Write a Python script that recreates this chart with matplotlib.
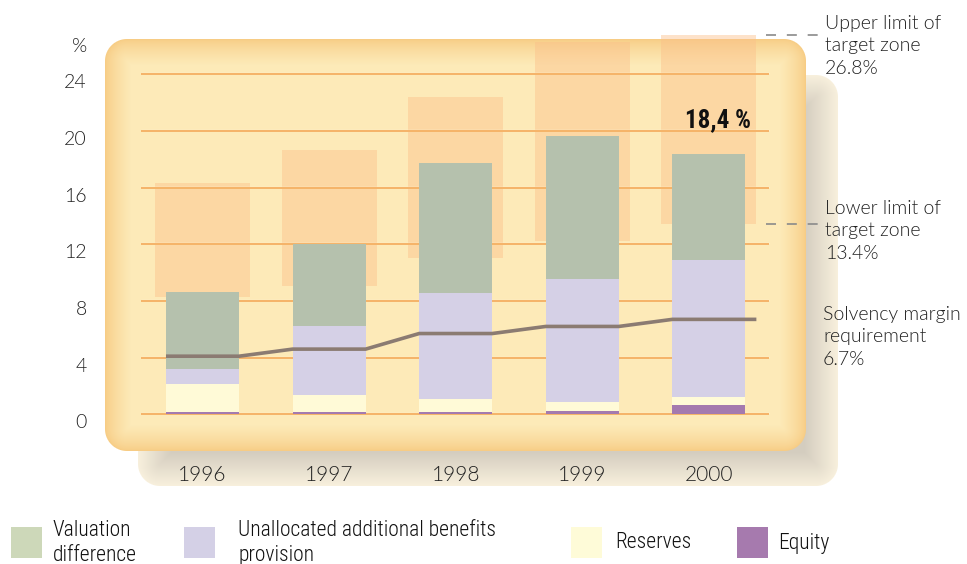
import numpy as np
import matplotlib
matplotlib.use('Agg')
import matplotlib.pyplot as plt
from matplotlib.patches import Rectangle
from matplotlib.font_manager import FontProperties
from matplotlib.transforms import ScaledTranslation

# solvency capital by component, % of technical provisions
years = ['1996', '1997', '1998', '1999', '2000']
equity = [0.17, 0.17, 0.17, 0.25, 0.66]
reserves = [1.97, 1.19, 0.91, 0.64, 0.58]
unallocated = [1.06, 4.90, 7.48, 8.68, 9.63]
valuation = [5.43, 5.74, 9.18, 10.07, 7.53]

# target zone and solvency margin requirement
zone_lower = [8.3, 9.05, 11.0, 12.25, 13.4]
zone_upper = [16.3, 18.65, 22.4, 26.3, 26.8]
solvency_req = [4.1, 4.6, 5.7, 6.2, 6.7]

series_names = ['Valuation\ndifference', 'Unallocated additional benefits\nprovision',
                'Reserves', 'Equity']
bar_colors = ['#b5c1ad', '#d5d0e6', '#fffad7', '#a47aaf']
legend_colors = ['#cdd8b9', '#d4d0e6', '#fefbd8', '#a67aae']

TXT = '#222222'


def light(size):
    return FontProperties(family='Lato', weight=300, size=size)


def narrow(size, weight=300):
    return FontProperties(family='Roboto Condensed', weight=weight, size=size)


W, H = 967, 564
fig = plt.figure(figsize=(W / 100, H / 100), dpi=100)


def rrect_sdf(X, Y, x0, y0, x1, y1, r):
    # signed distance to a rounded rectangle, negative inside
    cx, cy = (x0 + x1) / 2, (y0 + y1) / 2
    qx = np.abs(X - cx) - ((x1 - x0) / 2 - r)
    qy = np.abs(Y - cy) - ((y1 - y0) / 2 - r)
    out = np.hypot(np.maximum(qx, 0), np.maximum(qy, 0))
    return out + np.minimum(np.maximum(qx, qy), 0) - r


def blend(base, col, alpha):
    return base * (1 - alpha[..., None]) + col * alpha[..., None]


# background: soft drop shadow + glowing panel
Y, X = np.mgrid[0:H, 0:W] + 0.5
img = np.ones((H, W, 3))

d_sh = -rrect_sdf(X, Y, 138, 75, 838, 486, 22)
t = np.clip(d_sh / 34, 0, 1)[..., None]
cream = np.array([248, 240, 221]) / 255
grey = np.array([212, 205, 191]) / 255
img = blend(img, cream * (1 - t) + grey * t, np.clip(d_sh + 0.5, 0, 1))

d_pn = -rrect_sdf(X, Y, 105, 39, 806, 451, 22)
t = (np.clip(d_pn / 26, 0, 1) ** 0.7)[..., None]
edge = np.array([247, 203, 130]) / 255
inner = np.array([253, 234, 184]) / 255
img = blend(img, edge * (1 - t) + inner * t, np.clip(d_pn + 0.5, 0, 1))

bg = fig.add_axes([0, 0, 1, 1])
bg.imshow(img, extent=(0, W, H, 0), interpolation='bilinear')
bg.set_xlim(0, W)
bg.set_ylim(H, 0)
bg.axis('off')

# main chart axes, laid out over the panel
y_zero, px_unit = 414.3, 14.17
x_first, px_step = 202.5, 126.6
ax = fig.add_axes([105 / W, (H - 451) / H, (806 - 105) / W, (451 - 20) / H])
ax.set_facecolor('none')
ax.set_xlim((105 - x_first) / px_step, (806 - x_first) / px_step)
ax.set_ylim((y_zero - 451) / px_unit, (y_zero - 20) / px_unit)
for s in ax.spines.values():
    s.set_visible(False)

x = np.arange(len(years))
bar_w, zone_w = 0.577, 0.75

# target zones
lo = np.array(zone_lower)
hi = np.array(zone_upper)
ax.bar(x, hi - lo, zone_w, bottom=lo, color='#fbc08a', alpha=0.45,
       linewidth=0, zorder=1, clip_on=False)

# grid
yt = np.arange(0, 25, 4)
ax.hlines(yt + 0.07, -0.486, 4.475, color='#fff4d6', lw=1.0, zorder=2)
ax.hlines(yt, -0.486, 4.475, color='#f5b368', lw=1.4, zorder=2)

# stacked capital components
bottom = np.zeros(len(years))
for vals, c in zip([equity, reserves, unallocated, valuation], bar_colors[::-1]):
    ax.bar(x, vals, bar_w, bottom=bottom, color=c, linewidth=0, zorder=3)
    bottom += np.array(vals)

# solvency margin requirement, flat across each bar
lx, ly = [], []
for i, v in enumerate(solvency_req):
    lx += [i - bar_w / 2, i + bar_w / 2]
    ly += [v, v]
lx[-1] = x[-1] + zone_w / 2
ax.plot(lx, ly, color='#8b7b72', lw=2.6, zorder=4, solid_capstyle='butt')

total = bottom[-1]
ax.annotate(f'{total:.1f} %'.replace('.', ','), (x[-1] + 0.07, total),
            xytext=(0, 24), textcoords='offset points', ha='center', va='center',
            fontproperties=narrow(18, 700), color='#111111', zorder=5)

# ticks
ax.set_yticks(yt)
ax.set_yticklabels([str(v) for v in yt], fontproperties=light(14), color=TXT)
ax.tick_params(axis='y', length=0, pad=13)
shift = ScaledTranslation(0, -5 / 72, fig.dpi_scale_trans)
for lab in ax.get_yticklabels():
    lab.set_transform(lab.get_transform() + shift)
ax.set_xticks(x)
ax.set_xticklabels(years, fontproperties=light(15), color=TXT)
ax.tick_params(axis='x', length=0, pad=10)
bg.text(87, 46, '%', ha='right', va='center', fontproperties=light(14), color=TXT)

# target zone / requirement notes on the right
dash = dict(color='#8a8a8a', lw=1.2, ls=(0, (6, 6.5)), clip_on=False, zorder=5)
ax.plot([4.45, 4.87], [zone_upper[-1]] * 2, **dash)
ax.plot([4.45, 4.87], [zone_lower[-1]] * 2, **dash)
note = dict(fontproperties=light(14), color=TXT, va='top', linespacing=1.38)
bg.text(825, 15, f'Upper limit of\ntarget zone\n{zone_upper[-1]:.1f}%', **note)
bg.text(825, 200, f'Lower limit of\ntarget zone\n{zone_lower[-1]:.1f}%', **note)
bg.text(823, 306, f'Solvency margin\nrequirement\n{solvency_req[-1]:.1f}%', **note)

# legend
sq_x = [11, 184, 571, 737]
tx_x = [53, 238, 615, 778]
for name, c, sx, tx in zip(series_names, legend_colors, sq_x, tx_x):
    bg.add_patch(Rectangle((sx, 527), 31, 31, color=c, lw=0))
    bg.text(tx, 543, name, fontproperties=narrow(15.5), color='#111111',
            va='center', linespacing=1.2)

fig.savefig('out.png', dpi=100)
